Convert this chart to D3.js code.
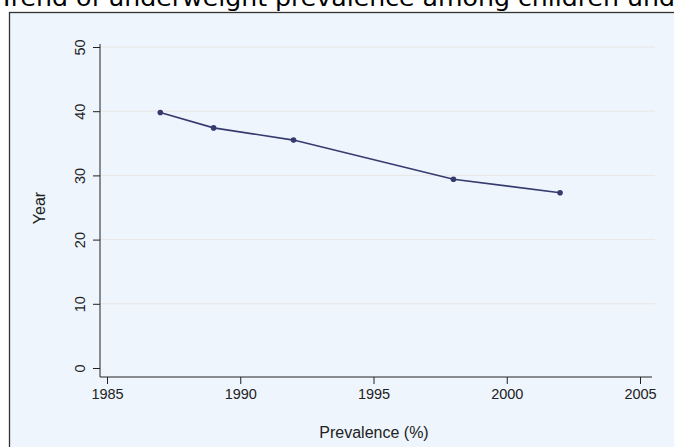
<!DOCTYPE html>
<html><head><meta charset="utf-8">
<script src="https://cdn.jsdelivr.net/npm/d3@7"></script>
<style>html,body{margin:0;padding:0;background:#fff;overflow:hidden}</style>
</head><body>
<script>
const years = [1987, 1989, 1992, 1998, 2002];
const prevalence = [39.8, 37.4, 35.5, 29.4, 27.3];
const xTicks = [1985, 1990, 1995, 2000, 2005];
const yTicks = [0, 10, 20, 30, 40, 50];
const titleText = "Trend of underweight prevalence among children und";
const xLabel = "Prevalence (%)";
const yLabel = "Year";

const W = 674, H = 447;
const svg = d3.select("body").append("svg").attr("width", W).attr("height", H);

svg.append("text").attr("x", -1).attr("y", 6)
  .attr("font-family", "DejaVu Sans").attr("font-size", 22.5).attr("fill", "#000")
  .attr("textLength", 676).attr("lengthAdjust", "spacingAndGlyphs")
  .text(titleText);

svg.append("rect").attr("x", 9.5).attr("y", 12.5).attr("width", W).attr("height", H)
  .attr("fill", "#eef5fc").attr("stroke", "#333").attr("stroke-width", 1.3);

const x = d3.scaleLinear().domain([1985, 2005]).range([107, 640]);
const y = d3.scaleLinear().domain([0, 50]).range([368, 47]);
const axisX0 = 100, axisY0 = 377;

svg.append("g").selectAll("line").data(yTicks.filter(d => d > 0)).join("line")
  .attr("x1", axisX0).attr("x2", 655).attr("y1", d => y(d)).attr("y2", d => y(d))
  .attr("stroke", "#e8e6e6").attr("stroke-width", 1);

const font = "Liberation Sans, Arial, sans-serif";

const gx = svg.append("g").attr("transform", `translate(0,${axisY0})`)
  .call(d3.axisBottom(x).tickValues(xTicks).tickFormat(d3.format("d")).tickSize(7).tickPadding(5));
gx.select(".domain").attr("d", `M${axisX0},0H652`).attr("stroke", "#222");
gx.selectAll("text").attr("font-family", font).attr("font-size", 14.5).attr("fill", "#222");
gx.selectAll("line").attr("stroke", "#222");

const gy = svg.append("g").attr("transform", `translate(${axisX0},0)`)
  .call(d3.axisLeft(y).tickValues(yTicks).tickSize(7).tickPadding(3));
gy.select(".domain").attr("d", `M0,${axisY0}V44`).attr("stroke", "#222");
gy.selectAll("line").attr("stroke", "#222");
gy.selectAll("text").attr("font-family", font).attr("font-size", 14.5).attr("fill", "#222")
  .attr("text-anchor", "middle").attr("x", null).attr("dy", "0.35em")
  .attr("transform", "translate(-20,0) rotate(-90)").attr("y", 0);

svg.append("text").attr("x", 374).attr("y", 438).attr("text-anchor", "middle")
  .attr("font-family", font).attr("font-size", 16).attr("fill", "#222").text(xLabel);
svg.append("text").attr("transform", "translate(45,208) rotate(-90)").attr("text-anchor", "middle")
  .attr("font-family", font).attr("font-size", 16).attr("fill", "#222").text(yLabel);

const pts = years.map((yr, i) => [yr, prevalence[i]]);
svg.append("path").datum(pts)
  .attr("d", d3.line().x(d => x(d[0])).y(d => y(d[1])))
  .attr("fill", "none").attr("stroke", "#353b6e").attr("stroke-width", 1.6);
svg.append("g").selectAll("circle").data(pts).join("circle")
  .attr("cx", d => x(d[0])).attr("cy", d => y(d[1])).attr("r", 2.8).attr("fill", "#353b6e");
</script>
</body></html>
